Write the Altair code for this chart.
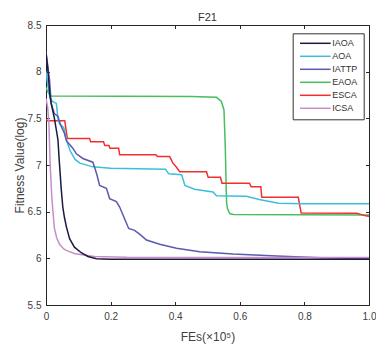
import altair as alt
import pandas as pd

# ---------------- data ----------------
series_names = ["IAOA", "AOA", "IATTP", "EAOA", "ESCA", "ICSA"]
series_colors = ["#1c1a40", "#3dbfdc", "#5a5aae", "#48bf5e", "#f22f2f", "#c88ccc"]

iaoa_x = [0, 0.005, 0.012, 0.016, 0.026, 0.032, 0.037, 0.041, 0.047, 0.052, 0.057,
          0.063, 0.073, 0.088, 0.109, 0.13, 0.156, 0.2, 1.0]
iaoa_y = [8.2, 8.05, 7.75, 7.66, 7.5, 7.375, 7.27, 7.05, 6.75, 6.55, 6.44,
          6.34, 6.21, 6.12, 6.06, 6.02, 5.995, 5.99, 5.99]

aoa_x = [0, 0.006, 0.012, 0.02, 0.032, 0.037, 0.042, 0.055, 0.065, 0.075, 0.09,
         0.105, 0.145, 0.2, 0.37, 0.38, 0.42, 0.43, 0.46, 0.517, 0.528, 0.62,
         0.66, 0.72, 0.8, 1.0]
aoa_y = [8.0, 7.85, 7.72, 7.68, 7.66, 7.5, 7.44, 7.40, 7.25, 7.15, 7.06,
         7.02, 6.98, 6.965, 6.955, 6.905, 6.895, 6.78, 6.74, 6.71, 6.67, 6.665,
         6.63, 6.59, 6.585, 6.585]

iattp_x = [0, 0.004, 0.011, 0.016, 0.026, 0.037, 0.045, 0.057, 0.063, 0.073, 0.083,
           0.094, 0.114, 0.145, 0.152, 0.158, 0.166, 0.187, 0.197, 0.218, 0.228,
           0.24, 0.256, 0.274, 0.29, 0.311, 0.352, 0.404, 0.476, 0.579, 0.714,
           0.85, 1.0]
iattp_y = [8.21, 8.1, 7.91, 7.66, 7.55, 7.52, 7.43, 7.34, 7.26, 7.22, 7.18,
           7.12, 7.07, 7.03, 6.96, 6.89, 6.78, 6.75, 6.64, 6.607, 6.55,
           6.45, 6.32, 6.30, 6.26, 6.196, 6.15, 6.107, 6.071, 6.046, 6.025,
           6.005, 5.995]

eaoa_x = [0, 0.006, 0.016, 0.45, 0.528, 0.543, 0.551, 0.555, 0.559, 0.562,
          0.569, 0.58, 1.0]
eaoa_y = [7.83, 7.78, 7.74, 7.735, 7.725, 7.68, 7.59, 7.2, 6.6, 6.53,
          6.48, 6.47, 6.465]

esca_x = [0, 0.005, 0.058, 0.066, 0.135, 0.138, 0.178, 0.182, 0.195, 0.198,
          0.225, 0.228, 0.34, 0.345, 0.383, 0.393, 0.404, 0.414, 0.497, 0.502,
          0.54, 0.545, 0.63, 0.635, 0.665, 0.668, 0.781, 0.79, 0.962, 0.99, 1.0]
esca_y = [7.49, 7.475, 7.475, 7.285, 7.285, 7.25, 7.25, 7.21, 7.21, 7.18,
          7.18, 7.11, 7.11, 7.09, 7.09, 7.02, 6.975, 6.928, 6.928, 6.868,
          6.868, 6.804, 6.804, 6.768, 6.768, 6.654, 6.654, 6.485, 6.483, 6.455, 6.452]

icsa_x = [0, 0.005, 0.009, 0.013, 0.018, 0.026, 0.033, 0.042, 0.055, 0.063,
          0.09, 0.15, 0.25, 1.0]
icsa_y = [7.71, 7.62, 7.45, 7.0, 6.65, 6.32, 6.22, 6.15, 6.1, 6.085,
          6.05, 6.02, 6.012, 6.01]

x_ticks = [0, 0.2, 0.4, 0.6, 0.8, 1.0]
y_ticks = [5.5, 6, 6.5, 7, 7.5, 8, 8.5]

# ---------------- table ----------------
draw_order = [
    ("EAOA", eaoa_x, eaoa_y),
    ("ESCA", esca_x, esca_y),
    ("AOA", aoa_x, aoa_y),
    ("IATTP", iattp_x, iattp_y),
    ("ICSA", icsa_x, icsa_y),
    ("IAOA", iaoa_x, iaoa_y),
]
rows = []
for name, xs, ys in draw_order:
    for i, (a, b) in enumerate(zip(xs, ys)):
        rows.append({"alg": name, "fes": a, "fit": b, "i": i})
df = pd.DataFrame(rows)

FONT = "Liberation Sans"
AX = "#262626"
LAB = "#404040"
W, H = 323, 280

xscale = alt.Scale(domain=[0, 1], nice=False, zero=False)
yscale = alt.Scale(domain=[5.5, 8.5], nice=False, zero=False)

lines = alt.Chart(df).mark_line(strokeWidth=1.5, clip=True).encode(
    x=alt.X("fes:Q", scale=xscale, axis=alt.Axis(
        orient="bottom", values=x_ticks, ticks=False, tickSize=0, grid=False,
        labelExpr="datum.value == 0 ? '0' : format(datum.value, '.1f')",
        labelPadding=6, labelFontSize=10, labelFont=FONT, labelColor=LAB,
        labelFlush=False, labelOverlap=False,
        domainColor=AX, domainWidth=1,
        title="FEs(×10⁵)", titleFont=FONT, titleFontSize=12, titleFontWeight="normal",
        titleColor=LAB, titleX=W / 2, titleY=35, titleBaseline="alphabetic")),
    y=alt.Y("fit:Q", scale=yscale, axis=alt.Axis(
        orient="left", values=y_ticks, ticks=False, tickSize=0, grid=False,
        labelExpr="format(datum.value, '~g')",
        labelPadding=5, labelFontSize=10, labelFont=FONT, labelColor=LAB,
        labelFlush=False, labelOverlap=False,
        domainColor=AX, domainWidth=1,
        title="Fitness Value(log)", titleFont=FONT, titleFontSize=12,
        titleFontWeight="normal", titleColor=LAB, titleX=-22.7, titleY=H / 2,
        titleBaseline="alphabetic")),
    color=alt.Color("alg:N", scale=alt.Scale(domain=series_names, range=series_colors),
                    legend=alt.Legend(
                        orient="none", legendX=246.7, legendY=8.3, title=None,
                        symbolType="M-0.9,0H9.33", symbolSize=36, symbolStrokeWidth=1.5,
                        symbolOffset=0, labelOffset=25.1,
                        labelFontSize=9, labelFont=FONT, labelColor="#333333",
                        padding=5.5, rowPadding=3.0,
                        strokeColor="#333333", fillColor="white")),
    order=alt.Order("i:Q"),
)

# inward ticks: bottom & left edges
ticks_in_a = alt.Chart(df).mark_point(opacity=0).encode(
    x=alt.X("fes:Q", scale=xscale, axis=alt.Axis(
        orient="top", offset=-H, values=x_ticks, labels=False, domain=False,
        grid=False, ticks=True, tickSize=3.5, tickColor=AX, title=None)),
    y=alt.Y("fit:Q", scale=yscale, axis=alt.Axis(
        orient="right", offset=-W, values=y_ticks, labels=False, domain=False,
        grid=False, ticks=True, tickSize=3.5, tickColor=AX, title=None)),
)

# inward ticks + frame: top & right edges
ticks_in_b = alt.Chart(df).mark_point(opacity=0).encode(
    x=alt.X("fes:Q", scale=xscale, axis=alt.Axis(
        orient="bottom", offset=-H, values=x_ticks, labels=False, domain=True,
        domainColor=AX, grid=False, ticks=True, tickSize=3.5, tickColor=AX, title=None)),
    y=alt.Y("fit:Q", scale=yscale, axis=alt.Axis(
        orient="left", offset=-W, values=y_ticks, labels=False, domain=True,
        domainColor=AX, grid=False, ticks=True, tickSize=3.5, tickColor=AX, title=None)),
)

chart = alt.layer(lines, ticks_in_a, ticks_in_b).resolve_axis(
    x="independent", y="independent"
).properties(
    width=W, height=H,
    title=alt.TitleParams("F21", font=FONT, fontSize=11, fontWeight="normal",
                          color="#333333", offset=5, dy=17, baseline="alphabetic",
                          frame="group", anchor="middle"),
    autosize=alt.AutoSizeParams(type="none"),
    padding={"left": 46, "top": 25, "right": 7, "bottom": 40},
).configure_view(stroke=None).configure(background="white")

chart.save("out.html", embed_options={"renderer": "svg", "actions": False})
